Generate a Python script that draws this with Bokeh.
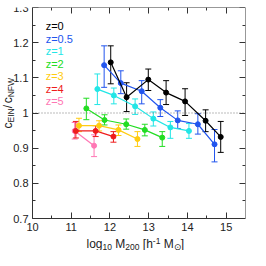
import math
from bokeh.plotting import figure
from bokeh.models import (Range1d, LinearAxis, FixedTicker, Whisker, ColumnDataSource,
                          Label, TeeHead)
from bokeh.core.properties import value
from bokeh.embed import file_html
from bokeh.resources import INLINE

# ---------------- data ----------------
redshift_labels = ["z=0", "z=0.5", "z=1", "z=2", "z=3", "z=4", "z=5"]
series_colors = ["#000000", "#2255ee", "#22e6e6", "#22dd22", "#ffcc11", "#ee1c1c", "#ff77b4"]

mass_z0 = [12.02, 12.43, 12.99, 13.45, 13.94, 14.47, 14.86]
ratio_z0 = [1.144, 1.045, 1.095, 1.058, 1.033, 0.978, 0.932]
upper_z0 = [1.191, 1.086, 1.125, 1.092, 1.069, 1.009, 0.976]
lower_z0 = [1.083, 1.004, 1.064, 1.024, 0.993, 0.947, 0.888]

mass_z05 = [11.85, 12.28, 12.82, 13.30, 13.75, 14.27, 14.70]
ratio_z05 = [1.136, 1.085, 1.062, 1.015, 0.979, 0.968, 0.911]
upper_z05 = [1.191, 1.120, 1.092, 1.038, 1.006, 0.998, 0.953]
lower_z05 = [1.073, 1.055, 1.026, 0.990, 0.956, 0.940, 0.861]

mass_z1 = [11.675, 12.10, 12.65, 13.12, 13.56, 14.04]
ratio_z1 = [1.068, 1.050, 1.019, 0.984, 0.959, 0.949]
upper_z1 = [1.111, 1.071, 1.040, 1.003, 0.976, 0.970]
lower_z1 = [1.024, 1.026, 0.996, 0.963, 0.928, 0.928]

mass_z2 = [11.39, 11.86, 12.42, 12.90, 13.35]
ratio_z2 = [1.013, 0.980, 0.968, 0.952, 0.930]
upper_z2 = [1.042, 0.995, 0.983, 0.968, 0.947]
lower_z2 = [0.981, 0.966, 0.954, 0.935, 0.905]

mass_z3 = [11.20, 11.72, 12.22, 12.71]
ratio_z3 = [0.964, 0.964, 0.952, 0.926]
upper_z3 = [0.985, 0.978, 0.966, 0.947]
lower_z3 = [0.947, 0.949, 0.936, 0.905]

mass_z4 = [11.12, 11.63, 12.09]
ratio_z4 = [0.949, 0.949, 0.933]
upper_z4 = [0.976, 0.964, 0.947]
lower_z4 = [0.929, 0.933, 0.917]

mass_z5 = [11.09, 11.59]
ratio_z5 = [0.949, 0.907]
upper_z5 = [0.973, 0.938]
lower_z5 = [0.926, 0.876]

X_MIN, X_MAX = 10.0, 15.5
Y_MIN, Y_MAX = 0.7, 1.3
x_tick_values = [10, 11, 12, 13, 14, 15]
x_tick_labels = ["10", "11", "12", "13", "14", "15"]
x_minor_values = [10.5, 11.5, 12.5, 13.5, 14.5]
y_tick_values = [0.7, 0.8, 0.9, 1.0, 1.1, 1.2, 1.3]
y_tick_labels = ["0.7", "0.8", "0.9", "1", "1.1", "1.2", "1.3"]
y_minor_values = [0.75, 0.85, 0.95, 1.05, 1.15, 1.25]
reference_level = 1.0

x_title_parts = ["log", "10", "M", "200", "[h", "-1", "M", "\u2299", "]"]
x_title_roles = ["n", "sub", "n", "sub", "n", "sup", "n", "sub", "n"]
x_title_space = [0, 0, 1, 0, 1, 0, 1, 0, 0]
y_title_parts = ["c", "EIN", "/", "c", "NFW"]
y_title_roles = ["n", "sub", "n", "n", "sub"]
y_title_space = [0, 0, 0, 0.5, 0]

series = [
    (mass_z0, ratio_z0, upper_z0, lower_z0),
    (mass_z05, ratio_z05, upper_z05, lower_z05),
    (mass_z1, ratio_z1, upper_z1, lower_z1),
    (mass_z2, ratio_z2, upper_z2, lower_z2),
    (mass_z3, ratio_z3, upper_z3, lower_z3),
    (mass_z4, ratio_z4, upper_z4, lower_z4),
    (mass_z5, ratio_z5, upper_z5, lower_z5),
]

# ---------------- layout constants ----------------
FONT = "Liberation Sans"
TXT = "#222222"
FRAME = "#333333"
BOX_W = 213        # plotted box width in px
BOX_H = 211        # plotted box height in px
PAD_LEFT = 32      # room for y tick labels / title inside the frame
PAD_BOTTOM = 32    # room for x tick labels / title inside the frame
FW = BOX_W + PAD_LEFT
FH = BOX_H + PAD_BOTTOM
x_lo = X_MIN - PAD_LEFT * (X_MAX - X_MIN) / BOX_W
y_lo = Y_MIN - PAD_BOTTOM * (Y_MAX - Y_MIN) / BOX_H

p = figure(frame_width=FW, frame_height=FH, x_range=Range1d(x_lo, X_MAX), y_range=Range1d(y_lo, Y_MAX),
           output_backend="svg", toolbar_location=None,
           min_border_left=0, min_border_bottom=0, min_border_right=5, min_border_top=7)
p.grid.visible = False
p.outline_line_color = None
p.background_fill_color = "white"
p.border_fill_color = "white"

xt = FixedTicker(ticks=x_tick_values, minor_ticks=x_minor_values)
yt = FixedTicker(ticks=y_tick_values, minor_ticks=y_minor_values)

def style_axis(ax, ticker, labels, loc, bounds):
    ax.ticker = ticker
    ax.fixed_location = loc
    ax.bounds = bounds
    ax.axis_line_color = FRAME
    ax.axis_line_width = 1
    ax.major_tick_line_color = FRAME
    ax.minor_tick_line_color = FRAME
    ax.major_tick_in = 6
    ax.major_tick_out = 0
    ax.minor_tick_in = 3
    ax.minor_tick_out = 0
    if labels:
        ax.major_label_text_font = FONT
        ax.major_label_text_font_size = "11px"
        ax.major_label_text_color = TXT
        ax.major_label_standoff = 4
    else:
        ax.major_label_text_color = None
        ax.major_label_text_font_size = "0px"
        ax.major_label_standoff = 0

bottom = p.xaxis[0]
left = p.yaxis[0]
style_axis(bottom, xt, True, Y_MIN, (X_MIN, X_MAX))
style_axis(left, yt, True, X_MIN, (Y_MIN, Y_MAX))
bottom.major_label_overrides = dict(zip(x_tick_values, x_tick_labels))
left.major_label_overrides = dict(zip(y_tick_values, y_tick_labels))

top = LinearAxis()
right = LinearAxis()
style_axis(top, xt, False, Y_MAX, (X_MIN, X_MAX))
style_axis(right, yt, False, X_MAX, (Y_MIN, Y_MAX))
p.add_layout(top, "above")
p.add_layout(right, "right")

# dotted reference line across the plotted box
p.segment(x0=[X_MIN], x1=[X_MAX], y0=[reference_level], y1=[reference_level],
          line_color="#777777", line_dash="1 2", line_width=1)

for (xs, ys, ups, los), col in reversed(list(zip(series, series_colors))):
    src = ColumnDataSource(dict(x=xs, y=ys, up=ups, lo=los))
    p.line("x", "y", source=src, line_color=col, line_width=1.2)
    p.add_layout(Whisker(source=src, base="x", upper="up", lower="lo",
                         line_color=col, line_width=1,
                         upper_head=TeeHead(size=6, line_color=col, line_width=1),
                         lower_head=TeeHead(size=6, line_color=col, line_width=1)))
    p.scatter("x", "y", source=src, size=5, fill_color=col, line_color=col)

legend_src = ColumnDataSource(dict(
    x=[10.34] * len(redshift_labels),
    y=[1.247 - 0.0355 * i for i in range(len(redshift_labels))],
    t=redshift_labels, c=series_colors))
p.text("x", "y", text="t", text_color="c", source=legend_src, text_font=value(FONT),
       text_font_size="11px", text_baseline="middle", text_align="left")

# ---------------- composite axis titles ----------------
CW = {'l': .222, 'o': .556, 'g': .556, ' ': .278, 'M': .833, '[': .278, 'h': .556,
      '-': .333, '1': .556, '0': .556, '2': .556, ']': .278, 'c': .5, 'E': .667,
      'I': .278, 'N': .722, 'F': .611, 'W': .944, '/': .278, '\u2299': .84}
SIZE = {"n": 12, "sub": 8.5, "sup": 8.5}
SHIFT = {"n": 0, "sub": -2.5, "sup": 3.5}
SPACE = 0.278 * 12

def tw(s, size):
    return sum(CW.get(ch, .6) for ch in s) * size

# x title: offsets (px) from the lower-left corner of the plotted box
pos = 54.0
for s, r, sp in zip(x_title_parts, x_title_roles, x_title_space):
    pos += sp * SPACE
    p.add_layout(Label(x=X_MIN, y=Y_MIN, x_offset=pos, y_offset=-25.5 + SHIFT[r], text=s,
                       text_font=FONT, text_font_size=f"{SIZE[r]}px", text_color=TXT,
                       text_baseline="alphabetic", text_align="left"))
    pos += tw(s, SIZE[r])

# y title (rotated), reading upward
pos = 90.0
for s, r, sp in zip(y_title_parts, y_title_roles, y_title_space):
    pos += sp * SPACE
    p.add_layout(Label(x=X_MIN, y=Y_MIN, x_offset=-24.5 - SHIFT[r], y_offset=pos, text=s,
                       angle=math.pi / 2,
                       text_font=FONT, text_font_size=f"{SIZE[r]}px", text_color=TXT,
                       text_baseline="alphabetic", text_align="left"))
    pos += tw(s, SIZE[r])

open("out.html", "w").write(file_html(p, INLINE))
